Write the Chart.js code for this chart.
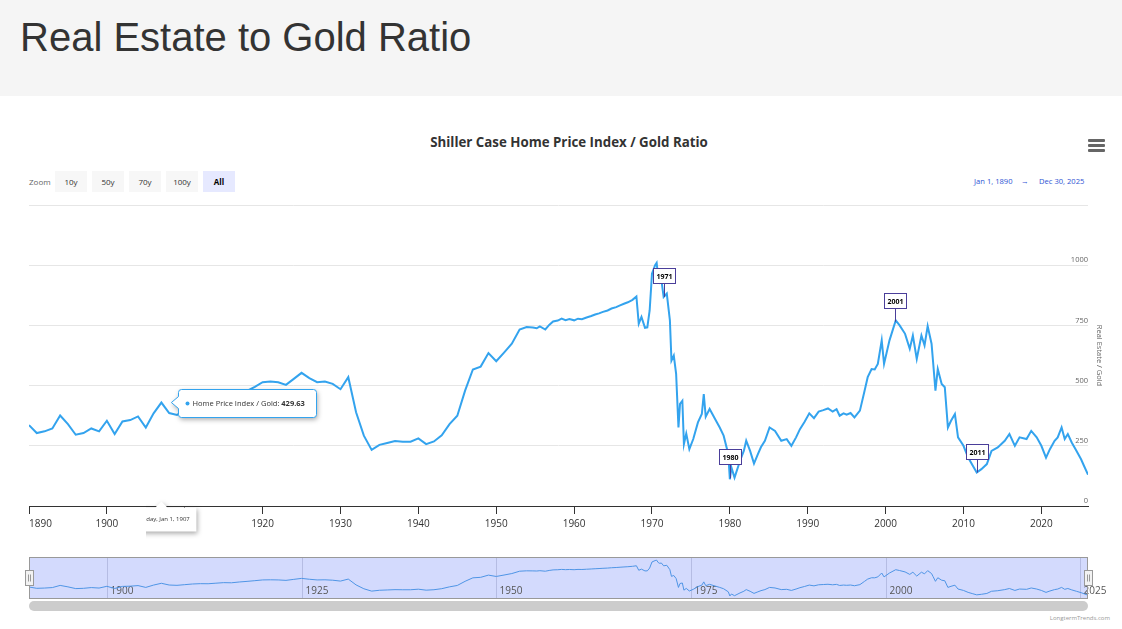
<!DOCTYPE html>
<html>
<head>
<meta charset="utf-8">
<title>Real Estate to Gold Ratio</title>
<script src="https://cdn.jsdelivr.net/npm/chart.js@4.4.1/dist/chart.umd.min.js"></script>
<style>
  body { margin: 0; width: 1122px; height: 629px; position: relative; overflow: hidden; background: #fff; font-family: "Open Sans", sans-serif; }
  #head { position: absolute; left: 0; top: 0; width: 1122px; height: 96px; background: #f5f5f5; }
  #head h1 { position: absolute; left: 20px; top: 17px; margin: 0; font: normal 40px/40px "Liberation Sans", Arial, sans-serif; color: #333; }
  #ctitle { position: absolute; left: 0; width: 1138px; top: 133px; line-height: 18px; text-align: center; font-weight: bold; font-size: 13.3px; color: #333; }
  #menu { position: absolute; left: 1088px; top: 139px; width: 17px; }
  #menu div { height: 2.5px; background: #666; margin-bottom: 2.5px; border-radius: 1px; }
  #zoom { position: absolute; left: 29px; top: 171px; height: 21px; font-size: 8px; color: #666; }
  #zoom span { position: absolute; top: 0; line-height: 21px; white-space: nowrap; }
  #zoom .btn { width: 32px; text-align: center; background: #f7f7f7; color: #333; }
  #zoom .sel { background: #e6e9ff; color: #000; font-weight: bold; }
  .rng { position: absolute; top: 175px; font-size: 7.6px; line-height: 12px; color: #2f55d4; white-space: nowrap; }
  #credit { position: absolute; right: 12px; top: 614px; font-size: 6px; color: #999; }
  canvas { position: absolute; left: 0; }
</style>
</head>
<body>
<div id="head"><h1>Real Estate to Gold Ratio</h1></div>
<div id="ctitle">Shiller Case Home Price Index / Gold Ratio</div>
<div id="menu"><div></div><div></div><div></div></div>
<div id="zoom">
  <span style="left:0">Zoom</span>
  <span class="btn" style="left:26px">10y</span>
  <span class="btn" style="left:63px">50y</span>
  <span class="btn" style="left:100px">70y</span>
  <span class="btn" style="left:137px">100y</span>
  <span class="btn sel" style="left:174px">All</span>
</div>
<span class="rng" style="left:974px">Jan 1, 1890</span>
<span class="rng" style="left:1021px">&rarr;</span>
<span class="rng" style="left:1039px">Dec 30, 2025</span>
<div id="credit">LongtermTrends.com</div>
<canvas id="main" width="1122" height="629" style="top:0"></canvas>
<canvas id="nav" width="1122" height="84" style="top:545px"></canvas>
<script>
// values
const years = [
  1890, 1891, 1892, 1893, 1894, 1895, 1896, 1897, 1898, 1899,
  1900, 1901, 1902, 1903, 1904, 1905, 1906, 1907, 1908, 1909,
  1910, 1911, 1912, 1913, 1914, 1915, 1916, 1917, 1918, 1919,
  1920, 1921, 1922, 1923, 1924, 1925, 1926, 1927, 1928, 1929,
  1930, 1931, 1932, 1933, 1934, 1935, 1936, 1937, 1938, 1939,
  1940, 1941, 1942, 1943, 1944, 1945, 1946, 1947, 1948, 1949,
  1950, 1951, 1952, 1953,
  1953.9, 1954.7, 1955.2, 1955.6, 1956.3, 1956.8, 1957.3, 1957.9, 1958.4, 1958.9,
  1959.4, 1960.0, 1960.5, 1961.0, 1961.6, 1962.2, 1962.7, 1963.2, 1963.7, 1964.3,
  1964.8, 1965.4, 1965.9, 1966.4, 1966.9, 1967.5, 1968.0, 1968.3, 1968.65, 1969.1,
  1969.4, 1969.7, 1970.0, 1970.4, 1970.6, 1970.8, 1971.0, 1971.2, 1971.5, 1971.9,
  1972.3, 1972.5, 1972.8, 1973.1, 1973.4, 1973.6, 1973.9, 1974.1, 1974.4, 1974.8,
  1975.3, 1975.9, 1976.4, 1976.65, 1976.9, 1977.4, 1978.1, 1978.7, 1979.2, 1979.8,
  1980.0, 1980.2, 1980.6, 1981.3, 1981.8, 1982.1, 1982.6, 1983.1, 1983.6, 1984.0,
  1984.5, 1985.1, 1985.8, 1986.6, 1987.3, 1987.9, 1988.5, 1989.0, 1989.6, 1990.2,
  1990.8, 1991.4, 1992.0, 1992.6, 1993.2, 1993.7, 1994.1, 1994.6, 1995.0, 1995.5,
  1996.0, 1996.7, 1997.3, 1997.7, 1998.2, 1998.6, 1999.0, 1999.5, 1999.8, 2000.5,
  2001.3, 2001.8, 2002.5, 2003.1, 2003.5, 2004.0, 2004.6, 2005.0, 2005.4, 2005.9,
  2006.1, 2006.4, 2006.7, 2007.2, 2007.6, 2008.0, 2008.4, 2008.9, 2009.3, 2010.0,
  2010.6, 2011.2, 2011.7, 2012.3, 2013.0, 2013.6, 2014.4, 2015.3, 2015.9, 2016.6,
  2017.2, 2018.1, 2018.7, 2019.4, 2020.0, 2020.6, 2021.1, 2021.7, 2022.1, 2022.6,
  2023.0, 2023.4, 2023.9, 2024.5, 2025.1, 2025.5, 2025.99
];
const ratios = [
  336, 303, 310, 322, 376, 340, 296, 303, 322, 310,
  354, 299, 351, 357, 372, 326, 385, 429.63, 386, 378,
  395, 412, 420, 418, 432, 446, 442, 462, 478, 495,
  514, 517, 514, 503, 528, 553, 531, 514, 517, 507,
  485, 535, 389, 292, 233, 254, 262, 270, 267, 267,
  281, 257, 268, 294, 340, 375, 479, 567, 579, 635,
  601, 637, 674, 733,
  743, 741, 738, 746, 733, 752, 766, 770, 778, 772,
  776, 771, 778, 776, 783, 789, 795, 800, 806, 812,
  820, 826, 833, 840, 846, 856, 870, 757, 785, 740,
  742, 812, 965, 1000, 1010, 951, 930, 940, 868, 882,
  771, 604, 625, 549, 326, 424, 437, 257, 301, 236,
  278, 347, 382, 465, 371, 403, 361, 326, 292, 215,
  111, 160, 118, 187, 230, 271, 229, 176, 215, 245,
  271, 326, 312, 271, 278, 250, 285, 319, 350, 385,
  365, 392, 398, 405, 392, 402, 375, 385, 379, 386,
  368, 396, 479, 535, 569, 567, 590, 688, 590, 688,
  771, 750, 715, 653, 708, 611, 708, 667, 747, 674,
  597, 479, 569, 507, 493, 326, 354, 382, 285, 250,
  201, 167, 139, 153, 174, 229, 243, 271, 299, 250,
  285, 278, 312, 285, 250, 201, 236, 271, 285, 326,
  278, 299, 264, 229, 194, 165, 130
];
const seriesName = 'Home Price Index / Gold';
const flagDates = [1971.5, 1980.05, 2001.2, 2011.7];
const flagValues = [868, 115, 765, 139];
const flagLabels = ['1971', '1980', '2001', '2011'];
const xTickYears = [1890, 1900, 1910, 1920, 1930, 1940, 1950, 1960, 1970, 1980, 1990, 2000, 2010, 2020];
const yTickValues = [0, 250, 500, 750, 1000, 1250];
const yTickLabels = ['0', '250', '500', '750', '1000', ''];
const navTickYears = [1900, 1925, 1950, 1975, 2000, 2025];
const hoverYear = 1907;
const xMin = 1890, xMax = 2025.99;

const lineColor = '#33a3ee';
const FONT = '"Open Sans", sans-serif';
Chart.defaults.font.family = FONT;

const points = years.map((y, i) => ({ x: y, y: ratios[i] }));
const flagPoints = flagDates.map((d, i) => ({ x: d, y: flagValues[i] }));

function roundRect(ctx, x, y, w, h, r) {
  ctx.beginPath();
  ctx.moveTo(x + r, y);
  ctx.arcTo(x + w, y, x + w, y + h, r);
  ctx.arcTo(x + w, y + h, x, y + h, r);
  ctx.arcTo(x, y + h, x, y, r);
  ctx.arcTo(x, y, x + w, y, r);
  ctx.closePath();
}

// flags + the frozen hover tooltip
const markers = {
  id: 'markers',
  afterDatasetsDraw(chart) {
    const ctx = chart.ctx;
    const meta = chart.getDatasetMeta(1);
    ctx.save();
    meta.data.forEach((el, i) => {
      const cx = Math.round(el.x) + 0.5;
      const bot = Math.round(el.y - 14) + 0.5;
      const w = 22, h = 15;
      ctx.strokeStyle = '#4a3e9a';
      ctx.lineWidth = 1;
      ctx.beginPath();
      ctx.moveTo(cx, bot);
      ctx.lineTo(cx, el.y);
      ctx.stroke();
      ctx.fillStyle = '#fff';
      ctx.fillRect(cx - w / 2, bot - h, w, h);
      ctx.strokeRect(cx - w / 2, bot - h, w, h);
      ctx.fillStyle = '#000';
      ctx.font = 'bold 7px ' + FONT;
      ctx.textAlign = 'center';
      ctx.textBaseline = 'middle';
      ctx.fillText(flagLabels[i], cx, bot - h / 2 + 0.5);
    });
    ctx.restore();
  },
  afterDraw(chart) {
    const ctx = chart.ctx;
    const idx = years.indexOf(hoverYear);
    const p = chart.getDatasetMeta(0).data[idx];
    const px = p.x, py = p.y;

    // series tooltip
    const bx = Math.round(px + 17) + 0.5, by = Math.round(py - 14) + 0.5;
    const bw = 138, bh = 28, r = 3;
    ctx.save();
    ctx.beginPath();
    ctx.moveTo(bx + r, by);
    ctx.arcTo(bx + bw, by, bx + bw, by + bh, r);
    ctx.arcTo(bx + bw, by + bh, bx, by + bh, r);
    ctx.arcTo(bx, by + bh, bx, by, r);
    ctx.lineTo(bx, py + 6);
    ctx.lineTo(px + 10, py);
    ctx.lineTo(bx, py - 6);
    ctx.arcTo(bx, by, bx + bw, by, r);
    ctx.closePath();
    ctx.shadowColor = 'rgba(0,0,0,0.35)';
    ctx.shadowBlur = 5;
    ctx.shadowOffsetX = 1;
    ctx.shadowOffsetY = 2;
    ctx.fillStyle = '#fff';
    ctx.fill();
    ctx.shadowColor = 'transparent';
    ctx.strokeStyle = lineColor;
    ctx.lineWidth = 1;
    ctx.stroke();
    ctx.fillStyle = lineColor;
    ctx.beginPath();
    ctx.arc(bx + 9, by + 14, 2, 0, Math.PI * 2);
    ctx.fill();
    ctx.fillStyle = '#333';
    ctx.textAlign = 'left';
    ctx.textBaseline = 'middle';
    ctx.font = '7.5px ' + FONT;
    const label = seriesName + ': ';
    ctx.fillText(label, bx + 14, by + 14);
    const lw = ctx.measureText(label).width;
    ctx.font = 'bold 7.5px ' + FONT;
    ctx.fillText(ratios[idx].toFixed(2), bx + 14 + lw, by + 14);
    ctx.restore();

    // date label on the x axis, cut off at its left side like the reference
    const top = Math.round(chart.chartArea.bottom) + 1.5;
    const dateText = new Date(Math.floor(hoverYear), 0, 1).toLocaleDateString('en-US', { weekday: 'long', month: 'short', day: 'numeric', year: 'numeric' });
    ctx.save();
    ctx.beginPath();
    ctx.rect(146, 0, 2000, 2000);
    ctx.clip();
    ctx.beginPath();
    ctx.moveTo(px - 35, top);
    ctx.lineTo(px - 6, top);
    ctx.lineTo(px, top - 6);
    ctx.lineTo(px + 6, top);
    ctx.lineTo(px + 35, top);
    ctx.lineTo(px + 35, top + 24);
    ctx.lineTo(px - 35, top + 24);
    ctx.closePath();
    ctx.shadowColor = 'rgba(0,0,0,0.35)';
    ctx.shadowBlur = 5;
    ctx.shadowOffsetX = 1;
    ctx.shadowOffsetY = 2;
    ctx.fillStyle = '#fff';
    ctx.fill();
    ctx.shadowColor = 'transparent';
    ctx.fillStyle = '#333';
    ctx.font = '6px ' + FONT;
    ctx.textAlign = 'center';
    ctx.textBaseline = 'middle';
    ctx.fillText(dateText, px, top + 12);
    ctx.restore();
  }
};

new Chart(document.getElementById('main'), {
  type: 'line',
  data: {
    datasets: [
      { label: seriesName, data: points, borderColor: lineColor, borderWidth: 2, pointRadius: 0, tension: 0, fill: false },
      { label: 'flags', data: flagPoints, showLine: false, pointRadius: 0 }
    ]
  },
  options: {
    responsive: false,
    animation: false,
    events: [],
    layout: { padding: { left: 29, right: 14, top: 205, bottom: 88 } },
    plugins: { legend: { display: false }, tooltip: { enabled: false } },
    scales: {
      x: {
        type: 'linear', min: xMin, max: xMax,
        afterBuildTicks: s => { s.ticks = xTickYears.concat([xMax]).map(v => ({ value: v })); },
        afterFit: s => { s.height = 35; },
        ticks: {
          align: 'inner', autoSkip: false, maxRotation: 0, padding: 4,
          color: '#333', font: { size: 10 },
          callback: v => xTickYears.includes(v) ? String(v) : ''
        },
        grid: {
          drawOnChartArea: false, drawTicks: true, tickLength: 8, tickWidth: 1,
          tickColor: c => (c.tick && xTickYears.includes(c.tick.value)) ? '#333' : 'rgba(0,0,0,0)'
        },
        border: { color: '#333', width: 1 }
      },
      y: {
        position: 'right', min: 0, max: 1250,
        afterBuildTicks: s => { s.ticks = yTickValues.map(v => ({ value: v })); },
        afterFit: s => { s.width = 20; },
        ticks: {
          mirror: true, padding: 0, labelOffset: -5, color: '#666', font: { size: 7.5 },
          callback: v => yTickLabels[yTickValues.indexOf(v)]
        },
        grid: { color: '#e6e6e6', drawTicks: false },
        border: { display: false },
        title: { display: true, text: 'Real Estate / Gold', color: '#666', font: { size: 7.5 } }
      }
    }
  },
  plugins: [markers]
});

// navigator below the chart
const navDecor = {
  id: 'navDecor',
  beforeDatasetsDraw(chart) {
    const { ctx, chartArea: a, scales: { x } } = chart;
    ctx.save();
    ctx.fillStyle = '#d3dafd';
    ctx.fillRect(a.left, a.top, a.right - a.left, a.bottom - a.top);
    ctx.strokeStyle = 'rgba(90,100,150,0.25)';
    ctx.lineWidth = 1;
    ctx.fillStyle = '#555';
    ctx.font = '10px ' + FONT;
    ctx.textAlign = 'left';
    ctx.textBaseline = 'alphabetic';
    navTickYears.forEach(t => {
      const gx = Math.round(x.getPixelForValue(t)) + 0.5;
      ctx.beginPath();
      ctx.moveTo(gx, a.top);
      ctx.lineTo(gx, a.bottom);
      ctx.stroke();
      ctx.fillText(String(t), gx + 3, a.bottom - 4);
    });
    ctx.restore();
  },
  afterDatasetsDraw(chart) {
    const { ctx, chartArea: a } = chart;
    ctx.save();
    ctx.strokeStyle = '#999';
    ctx.lineWidth = 1;
    ctx.strokeRect(Math.round(a.left) + 0.5, Math.round(a.top) + 0.5, Math.round(a.right - a.left) - 1, Math.round(a.bottom - a.top));
    [a.left, a.right].forEach(hx => {
      const x0 = Math.round(hx - 4) + 0.5, y0 = Math.round(a.top + 13) + 0.5;
      ctx.fillStyle = '#f2f2f2';
      ctx.fillRect(x0, y0, 8, 15);
      ctx.strokeRect(x0, y0, 8, 15);
      ctx.beginPath();
      ctx.moveTo(x0 + 3, y0 + 4); ctx.lineTo(x0 + 3, y0 + 11);
      ctx.moveTo(x0 + 5, y0 + 4); ctx.lineTo(x0 + 5, y0 + 11);
      ctx.stroke();
    });
    ctx.fillStyle = '#cccccc';
    roundRect(ctx, a.left, a.bottom + 3, a.right - a.left, 10, 5);
    ctx.fill();
    ctx.restore();
  }
};

new Chart(document.getElementById('nav'), {
  type: 'line',
  data: { datasets: [{ data: points, borderColor: '#4f95e6', borderWidth: 1, pointRadius: 0, tension: 0, fill: false }] },
  options: {
    responsive: false,
    animation: false,
    events: [],
    layout: { padding: { left: 29, right: 34, top: 12, bottom: 31 } },
    plugins: { legend: { display: false }, tooltip: { enabled: false } },
    scales: {
      x: { type: 'linear', display: false, min: xMin, max: xMax },
      y: { display: false, min: 60, max: 1090 }
    }
  },
  plugins: [navDecor]
});
</script>
</body>
</html>
